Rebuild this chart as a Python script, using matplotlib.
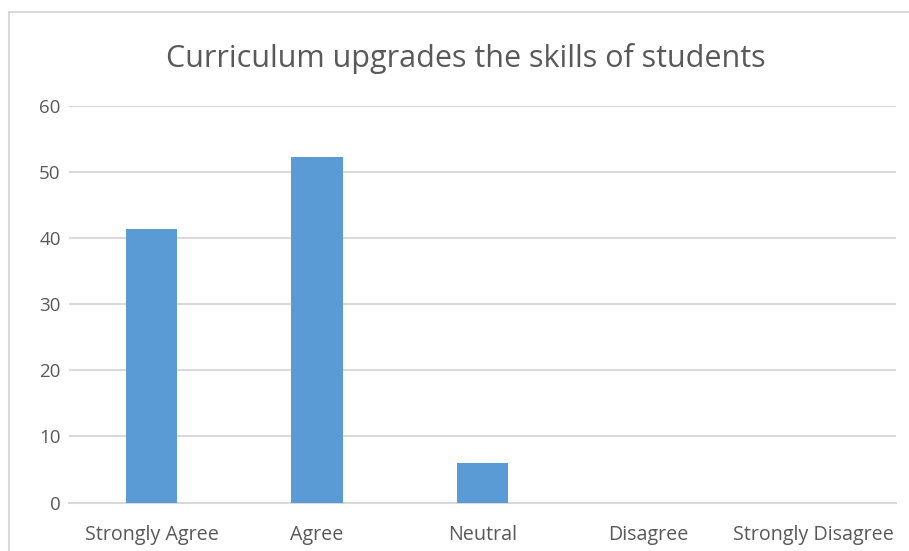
import matplotlib
matplotlib.use("Agg")
import matplotlib.pyplot as plt
from matplotlib.patches import Rectangle

categories = ["Strongly Agree", "Agree", "Neutral", "Disagree", "Strongly Disagree"]
values = [41.4, 52.3, 6.0, 0, 0]
yticks = [0, 10, 20, 30, 40, 50, 60]
title = "Curriculum upgrades the skills of students"

plt.rcParams['font.family'] = ['Open Sans', 'DejaVu Sans']

fig = plt.figure(figsize=(9.09, 5.51), dpi=100)
fig.patch.set_facecolor("white")
ax = fig.add_axes([69/909, 1-502.5/551, (896-69)/909, (502.5-106)/551])

# outer chart border
fig.add_artist(Rectangle((9/909, -0.1), 1.0, 1-12/551+0.1, transform=fig.transFigure,
                         fill=False, edgecolor="#d9d9d9", linewidth=1.5))

x = range(len(categories))
ax.bar(x, values, width=0.31, color="#5b9bd5", zorder=3)
ax.set_xlim(-0.5, len(categories)-0.5)
ax.set_ylim(0, 60)
ax.set_yticks(yticks)
ax.set_xticks(list(x))
ax.set_xticklabels(categories)
ax.grid(axis="y", color="#d9d9d9", linewidth=1.5, zorder=0)
for s in ["top", "right", "left"]:
    ax.spines[s].set_visible(False)
ax.spines["bottom"].set_color("#d9d9d9")
ax.spines["bottom"].set_linewidth(1.5)
ax.tick_params(axis="y", length=0, colors="#595959", labelsize=13.5, pad=6)
ax.tick_params(axis="x", length=0, colors="#595959", labelsize=14.2, pad=16.5)

fig.text(466/909, 1-59/551, title, ha="center", va="center", fontsize=22, color="#595959")

fig.savefig("out.png", dpi=100, facecolor="white")
